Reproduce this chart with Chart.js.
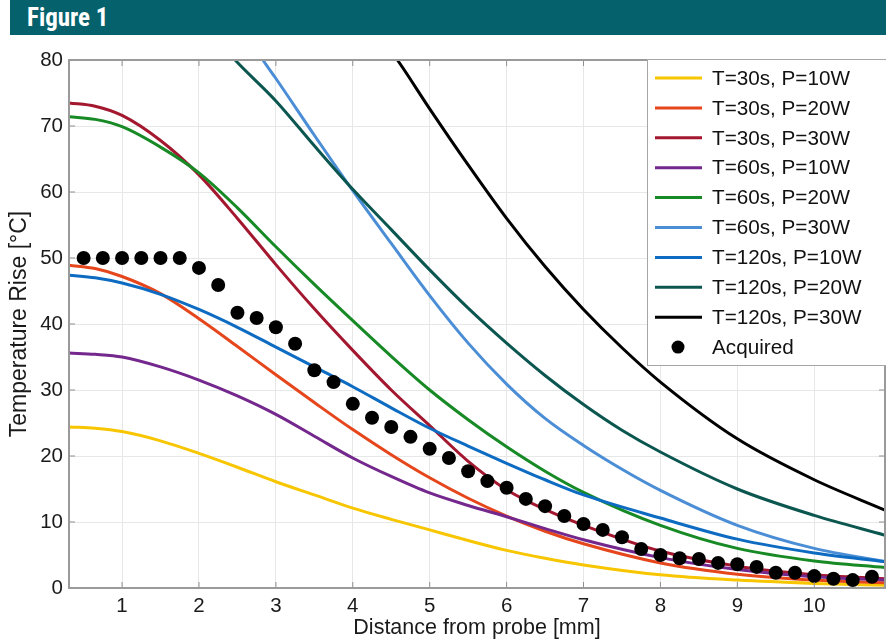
<!DOCTYPE html>
<html>
<head>
<meta charset="utf-8">
<script src="https://cdn.jsdelivr.net/npm/chart.js@4.4.0/dist/chart.umd.min.js"></script>
<style>
  body { margin: 0; background: #fff; width: 886px; height: 641px; overflow: hidden; position: relative; }
  #wrap { position: absolute; left: 0; top: 0; width: 886px; height: 641px; }
  #header {
    position: absolute; left: 10px; top: 0; width: 876px; height: 35px;
    background: #05626d; color: #fff; box-sizing: border-box; padding-left: 17px;
    font-family: "Liberation Sans Narrow", "Roboto Condensed", "Liberation Sans", Arial, sans-serif;
    font-weight: bold; font-size: 25px; line-height: 35px;
  }
</style>
</head>
<body>
<div id="wrap"><canvas id="fig1" width="886" height="641"></canvas></div>
<div id="header">Figure 1</div>
<script>
// axis ticks
let xTicks = [1, 2, 3, 4, 5, 6, 7, 8, 9, 10];
let yTicks = [0, 10, 20, 30, 40, 50, 60, 70, 80];

let seriesLabels = ['T=30s, P=10W', 'T=30s, P=20W', 'T=30s, P=30W',
                    'T=60s, P=10W', 'T=60s, P=20W', 'T=60s, P=30W',
                    'T=120s, P=10W', 'T=120s, P=20W', 'T=120s, P=30W'];

// distance [mm] for the curves that stay inside the plot
let distFull = [0.31, 0.65, 1, 1.5, 2, 2.5, 3, 3.5, 4, 4.5, 5, 5.5, 6, 6.5, 7, 8, 9, 10, 10.92];

let t30p10 = [24.4, 24.2, 23.7, 22.3, 20.4, 18.3, 16.1, 14.1, 12.1, 10.4, 8.8, 7.2, 5.7, 4.5, 3.5, 2.0, 1.2, 0.7, 0.4];
let t30p20 = [48.9, 48.4, 47.2, 44.6, 40.8, 36.6, 32.3, 28.1, 24.0, 20.2, 16.7, 13.6, 10.9, 8.6, 6.7, 3.8, 2.1, 1.2, 0.8];
let t30p30 = [73.5, 73.0, 71.6, 67.8, 62.6, 56.0, 49.0, 42.3, 36.0, 30.0, 24.6, 19.2, 14.9, 11.9, 9.5, 5.6, 3.3, 2.0, 1.4];
let t60p10 = [35.6, 35.4, 35.0, 33.5, 31.5, 29.1, 26.3, 23.0, 19.7, 16.9, 14.4, 12.5, 10.8, 9.0, 7.3, 4.6, 2.8, 1.7, 1.2];
let t60p20 = [71.4, 71.0, 69.9, 66.8, 62.9, 57.6, 51.7, 46.0, 40.5, 35.1, 30.0, 25.5, 21.4, 17.7, 14.5, 9.5, 6.0, 4.1, 3.1];
let t120p10 = [47.4, 47.0, 46.2, 44.5, 42.2, 39.5, 36.5, 33.5, 30.5, 27.3, 24.2, 21.5, 18.9, 16.4, 14.1, 10.6, 7.4, 5.3, 4.0];

// curves that come in from above the top of the axis
let distT60p30 = [2.6, 2.83, 3, 3.5, 4, 4.5, 5, 5.5, 6, 6.5, 7, 7.5, 8, 9, 10, 10.92];
let t60p30 = [83.8, 80, 77.2, 68.6, 60.2, 52.2, 44.3, 37.1, 30.9, 25.7, 21.6, 18.0, 14.8, 9.5, 6.0, 4.0];

let distT120p20 = [2.3, 2.47, 3, 3.5, 4, 4.5, 5, 5.5, 6, 6.5, 7, 7.5, 8, 9, 10, 10.92];
let t120p20 = [82.3, 80, 73.8, 67.0, 60.4, 54.3, 48.2, 42.4, 37.1, 32.2, 27.8, 23.9, 20.6, 15.0, 11.0, 8.0];

let distT120p30 = [4.45, 4.58, 5, 5.5, 6, 6.5, 7, 7.5, 8, 9, 10, 10.92];
let t120p30 = [82, 80, 72.6, 64.1, 56.0, 48.7, 42.2, 36.4, 31.2, 22.6, 16.4, 11.8];

// measured points
let acquiredDist = [0.5, 0.75, 1, 1.25, 1.5, 1.75, 2, 2.25, 2.5, 2.75, 3, 3.25, 3.5, 3.75,
                    4, 4.25, 4.5, 4.75, 5, 5.25, 5.5, 5.75, 6, 6.25, 6.5, 6.75, 7, 7.25,
                    7.5, 7.75, 8, 8.25, 8.5, 8.75, 9, 9.25, 9.5, 9.75, 10, 10.25, 10.5, 10.75];
let acquiredTemp = [50, 50, 50, 50, 50, 50, 48.5, 45.9, 41.7, 40.9, 39.5, 37.0, 33.0, 31.2,
                    27.9, 25.8, 24.4, 22.9, 21.1, 19.7, 17.7, 16.2, 15.2, 13.5, 12.4, 10.9, 9.7, 8.8,
                    7.7, 5.9, 5.0, 4.5, 4.4, 3.8, 3.6, 3.2, 2.3, 2.3, 1.8, 1.4, 1.2, 1.7];

let seriesColors = ['#f7c600', '#e5461c', '#a3172f', '#74278c', '#178a26',
                    '#4b8ed6', '#0d6cc2', '#0c5650', '#000000'];

let curveX = [distFull, distFull, distFull, distFull, distFull, distT60p30, distFull, distT120p20, distT120p30];
let curveY = [t30p10, t30p20, t30p30, t60p10, t60p20, t60p30, t120p10, t120p20, t120p30];

function pairs(xs, ys) {
    return xs.map((x, i) => ({ x: x, y: ys[i] }));
}

let fontFamily = '"Liberation Sans", Arial, Helvetica, sans-serif';

let datasets = seriesLabels.map((label, i) => ({
    label: label,
    data: pairs(curveX[i], curveY[i]),
    borderColor: seriesColors[i],
    backgroundColor: seriesColors[i],
    borderWidth: 3,
    pointRadius: 0,
    cubicInterpolationMode: 'monotone',
    fill: false,
    order: 20 - i
}));

datasets.push({
    label: 'Acquired',
    data: pairs(acquiredDist, acquiredTemp),
    showLine: false,
    pointRadius: 7,
    pointStyle: 'circle',
    backgroundColor: '#000',
    borderColor: '#000',
    borderWidth: 0,
    clip: false,
    order: 0
});

// box, inward ticks and the legend box (MATLAB look)
let figurePlugin = {
    id: 'figurePlugin',
    afterDraw(chart) {
        let ctx = chart.ctx;
        let a = chart.chartArea;
        let sx = chart.scales.x, sy = chart.scales.y;
        ctx.save();
        ctx.strokeStyle = '#8f8f8f';
        ctx.lineWidth = 1;
        xTicks.forEach(v => {
            let px = sx.getPixelForValue(v);
            ctx.beginPath();
            ctx.moveTo(px, a.bottom); ctx.lineTo(px, a.bottom - 6);
            ctx.moveTo(px, a.top); ctx.lineTo(px, a.top + 6);
            ctx.stroke();
        });
        yTicks.forEach(v => {
            let py = sy.getPixelForValue(v);
            ctx.beginPath();
            ctx.moveTo(a.left, py); ctx.lineTo(a.left + 6, py);
            ctx.moveTo(a.right, py); ctx.lineTo(a.right - 6, py);
            ctx.stroke();
        });
        ctx.lineWidth = 2;
        ctx.strokeStyle = '#9a9a9a';
        ctx.strokeRect(a.left, a.top, a.right - a.left, a.bottom - a.top);

        // legend
        let lx = 647, ly = 59, lw = 250, lh = 306;
        ctx.fillStyle = '#fff';
        ctx.fillRect(lx, ly, lw, lh);
        ctx.lineWidth = 1;
        ctx.strokeStyle = '#a6a6a6';
        ctx.strokeRect(lx + 0.5, ly + 0.5, lw, lh);
        ctx.font = '20.7px ' + fontFamily;
        ctx.textBaseline = 'middle';
        chart.data.datasets.forEach((ds, i) => {
            let y = 78 + i * 29.9;
            if (ds.showLine === false) {
                ctx.fillStyle = ds.backgroundColor;
                ctx.beginPath();
                ctx.arc(678, y, 6.5, 0, Math.PI * 2);
                ctx.fill();
            } else {
                ctx.strokeStyle = ds.borderColor;
                ctx.lineWidth = 3;
                ctx.beginPath();
                ctx.moveTo(655, y); ctx.lineTo(702, y);
                ctx.stroke();
            }
            ctx.fillStyle = '#111';
            ctx.fillText(ds.label, 712, y + 1);
        });
        ctx.restore();
    }
};

let ctx = document.getElementById('fig1').getContext('2d');
let chart = new Chart(ctx, {
    type: 'line',
    data: { datasets: datasets },
    options: {
        responsive: false,
        animation: false,
        layout: { autoPadding: false, padding: { top: 60, right: 1, left: 0, bottom: 0 } },
        plugins: {
            legend: { display: false },
            tooltip: { enabled: false }
        },
        scales: {
            x: {
                type: 'linear',
                min: 0.31,
                max: 10.92,
                afterBuildTicks: (s) => { s.ticks = xTicks.map(v => ({ value: v })); },
                afterFit: (s) => { s.height = 53; s.paddingLeft = 0; s.paddingRight = 0; },
                grid: { color: '#e6e8e8', lineWidth: 1, drawTicks: false },
                border: { display: false },
                ticks: { padding: 6, color: '#1a1a1a', font: { family: fontFamily, size: 20.5 } },
                title: {
                    display: true, text: 'Distance from probe [mm]', color: '#1a1a1a',
                    font: { family: fontFamily, size: 21.5 }, padding: { top: 0, bottom: 0 }
                }
            },
            y: {
                type: 'linear',
                min: 0,
                max: 80,
                afterBuildTicks: (s) => { s.ticks = yTicks.map(v => ({ value: v })); },
                afterFit: (s) => { s.width = 69; s.paddingTop = 0; s.paddingBottom = 0; },
                grid: { color: '#e6e8e8', lineWidth: 1, drawTicks: false },
                border: { display: false },
                ticks: { padding: 6, color: '#1a1a1a', font: { family: fontFamily, size: 20.5 } },
                title: {
                    display: true, text: 'Temperature Rise [°C]', color: '#1a1a1a',
                    font: { family: fontFamily, size: 23 }, padding: { top: 6, bottom: 0 }
                }
            }
        }
    },
    plugins: [figurePlugin]
});
</script>
</body>
</html>
